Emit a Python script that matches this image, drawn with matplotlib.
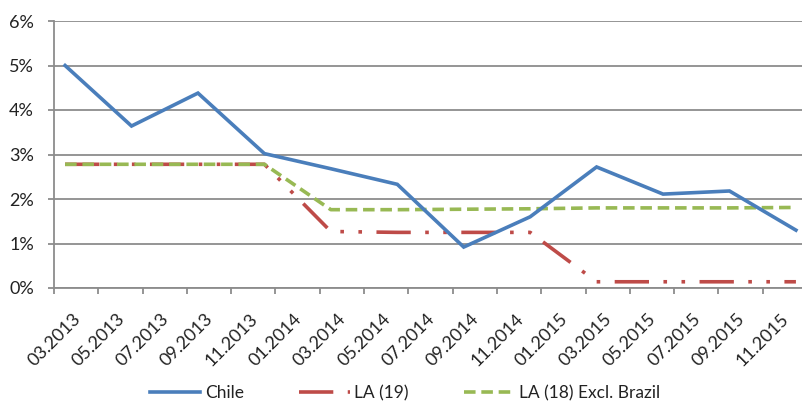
import matplotlib
matplotlib.use("Agg")
import matplotlib.pyplot as plt
import matplotlib.transforms as mtransforms
from matplotlib.ticker import FixedLocator, FuncFormatter
from matplotlib.lines import Line2D

# monthly category axis, 03.2013 .. 12.2015
months = [f"{m:02d}.{y}" for y in (2013, 2014, 2015) for m in range(1, 13)][2:]
quarters = ["03.2013", "06.2013", "09.2013", "12.2013",
            "03.2014", "06.2014", "09.2014", "12.2014",
            "03.2015", "06.2015", "09.2015", "12.2015"]

chile = [5.00, 3.64, 4.38, 3.02, 2.68, 2.33, 0.92, 1.60, 2.72, 2.11, 2.18, 1.30]
la19 = [2.78, 2.78, 2.78, 2.78, 1.27, 1.25, 1.25, 1.25, 0.14, 0.14, 0.14, 0.14]
la18 = [2.78, 2.78, 2.78, 2.78, 1.76, 1.76, 1.77, 1.78, 1.80, 1.80, 1.80, 1.81]

names = ["Chile", "LA (19)", "LA (18) Excl. Brazil"]
colors = ["#4A7EBB", "#BE4B48", "#98B954"]

plt.rcParams["font.family"] = ["Lato", "DejaVu Sans"]

fig = plt.figure(figsize=(8.02, 4.04), dpi=100)
ax = fig.add_axes([54 / 802, 116 / 404, 753 / 802, 267 / 404])

xq = [months.index(q) for q in quarters]
lw = 2.6
ax.plot(xq, la19, color=colors[1], lw=lw, dashes=(9.5, 4, 1, 4, 1, 4), zorder=3)
ax.plot(xq, la18, color=colors[2], lw=lw, dashes=(3.2, 1.6), zorder=4)
ax.plot(xq, chile, color=colors[0], lw=lw, zorder=5, solid_joinstyle="miter")

ax.set_xlim(-0.5, len(months) - 0.5)
ax.set_ylim(0, 6)

grid_c = "#8C8C8C"
ax.set_yticks(range(0, 7))
ax.yaxis.set_major_formatter(FuncFormatter(lambda v, p: f"{v:.0f}%"))
ax.yaxis.grid(True, color=grid_c, lw=1.3)
ax.set_axisbelow(True)

# tick marks between categories, labels on every second month
ax.xaxis.set_major_locator(FixedLocator([i - 0.5 for i in range(0, len(months), 2)]))
ax.xaxis.set_minor_locator(FixedLocator(list(range(0, len(months), 2))))
ax.xaxis.set_major_formatter(FuncFormatter(lambda v, p: ""))
ax.xaxis.set_minor_formatter(FuncFormatter(lambda v, p: months[int(round(v))]))
ax.tick_params(axis="x", which="major", length=4.5, width=1.3, color=grid_c)
ax.tick_params(axis="x", which="minor", length=0, pad=16, labelsize=13,
               labelcolor="#222222")
ax.tick_params(axis="y", length=4.5, width=1.3, color=grid_c, pad=10,
               labelsize=13, labelcolor="#222222")
shift = mtransforms.ScaledTranslation(7 / 100, 0, fig.dpi_scale_trans)
for lab in ax.get_xticklabels(minor=True):
    lab.set_rotation(45)
    lab.set_ha("right")
    lab.set_va("top")
    lab.set_rotation_mode("anchor")
    lab.set_transform(lab.get_transform() + shift)

for side in ("top", "right"):
    ax.spines[side].set_visible(False)
for side in ("left", "bottom"):
    ax.spines[side].set_color(grid_c)
    ax.spines[side].set_linewidth(1.3)

handles = [
    Line2D([], [], color=colors[0], lw=lw),
    Line2D([], [], color=colors[1], lw=lw, dashes=(9.5, 4, 1, 4, 1, 4)),
    Line2D([], [], color=colors[2], lw=lw, dashes=(3.2, 1.6)),
]
fig.legend(handles, names, loc="center", bbox_to_anchor=(405 / 802, 1 - 393 / 404),
           ncol=3, frameon=False, fontsize=12.5, handlelength=2.9,
           handletextpad=0.25, columnspacing=3.2, labelcolor="#222222")

fig.savefig("out.png", dpi=100)
